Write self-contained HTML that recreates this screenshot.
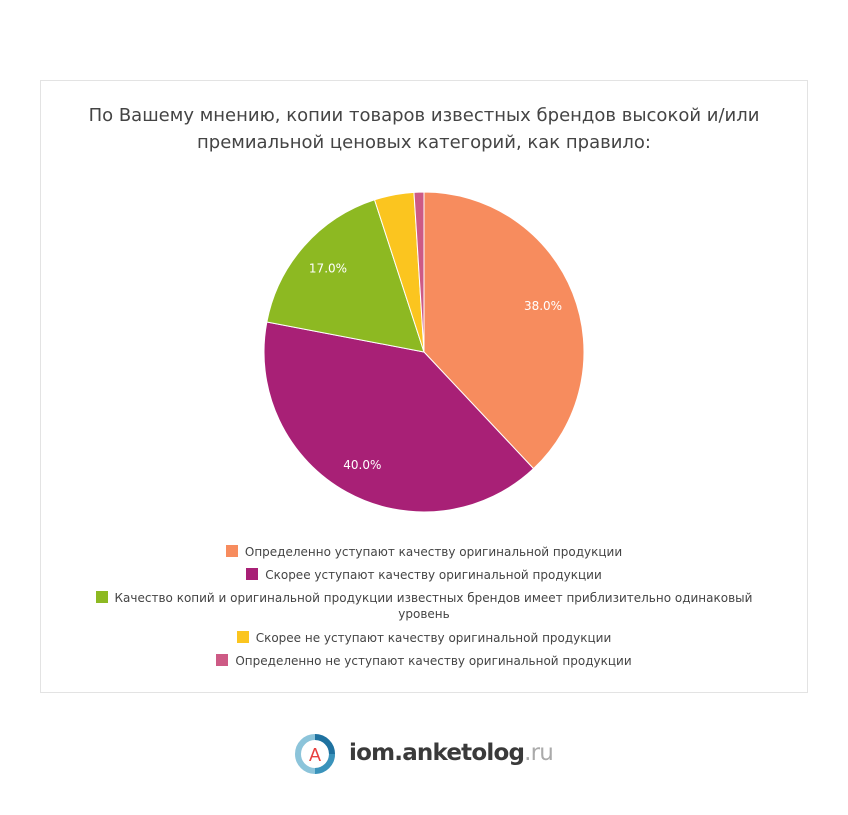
<!DOCTYPE html>
<html><head><meta charset="utf-8"><style>
body{margin:0;width:848px;height:815px;background:#fff;font-family:"DejaVu Sans","Liberation Sans",sans-serif;position:relative;overflow:hidden}
#card{position:absolute;left:40px;top:80px;width:768px;height:613px;border:1px solid #e3e3e3;box-sizing:border-box}
#title{position:absolute;left:40px;top:102px;width:768px;text-align:center;font-size:18px;line-height:27px;color:#444}
.leg{position:absolute;left:40px;width:768px;text-align:center;font-size:12px;color:#444;line-height:16px}
.sw{display:inline-block;width:12px;height:12px;margin-right:7px;vertical-align:-1px}
</style></head><body>
<div id="card"></div>
<div id="title">По Вашему мнению, копии товаров известных брендов высокой и/или<br>премиальной ценовых категорий, как правило:</div>
<svg id="pie" width="848" height="815" style="position:absolute;left:0;top:0"></svg>
<div class="leg" style="top:544px"><span class="sw" style="background:#f78c5e"></span>Определенно уступают качеству оригинальной продукции</div>
<div class="leg" style="top:567px"><span class="sw" style="background:#a82076"></span>Скорее уступают качеству оригинальной продукции</div>
<div class="leg" style="top:590px;left:90px;width:668px"><span class="sw" style="background:#8db922"></span>Качество копий и оригинальной продукции известных брендов имеет приблизительно одинаковый уровень</div>
<div class="leg" style="top:630px"><span class="sw" style="background:#fbc51f"></span>Скорее не уступают качеству оригинальной продукции</div>
<div class="leg" style="top:653px"><span class="sw" style="background:#cd5a85"></span>Определенно не уступают качеству оригинальной продукции</div>
<div style="position:absolute;left:293px;top:732px;height:44px;width:280px">
<svg width="44" height="44" style="position:absolute;left:0;top:0">
<circle cx="22" cy="22" r="17" fill="none" stroke="#8cc4da" stroke-width="6"/>
<path d="M22 5 A17 17 0 0 1 39 22" fill="none" stroke="#1f72a0" stroke-width="6"/>
<path d="M39 22 A17 17 0 0 1 22 39" fill="none" stroke="#3a93bb" stroke-width="6"/>
<circle cx="22" cy="22" r="13" fill="#fff"/>
<text x="22" y="29" text-anchor="middle" font-size="18" fill="#e8403f" font-family="Liberation Sans,sans-serif">A</text>
</svg>
<span style="position:absolute;left:56px;top:8px;font-size:23px;font-weight:bold;color:#3a3a3a;font-family:'DejaVu Sans',sans-serif;letter-spacing:-0.8px">iom.anketolog<span style="color:#aaa;font-weight:normal">.ru</span></span>
</div>
<script>
const labels=["Определенно уступают","Скорее уступают","Приблизительно одинаковый","Скорее не уступают","Определенно не уступают"];
const values=[38,40,17,4,1];
const colors=["#f78c5e","#a82076","#8db922","#fbc51f","#cd5a85"];
const svg=document.getElementById('pie');const ns="http://www.w3.org/2000/svg";
const cx=424,cy=352,r=160;const tot=values.reduce((a,b)=>a+b,0);
let a=0;
values.forEach((v,i)=>{
 const a0=a,a1=a+v/tot*2*Math.PI;a=a1;
 const p=t=>[cx+r*Math.sin(t),cy-r*Math.cos(t)];
 const [x0,y0]=p(a0),[x1,y1]=p(a1);
 const path=document.createElementNS(ns,'path');
 path.setAttribute('d',`M${cx},${cy}L${x0},${y0}A${r},${r} 0 ${a1-a0>Math.PI?1:0} 1 ${x1},${y1}Z`);
 path.setAttribute('fill',colors[i]);path.setAttribute('stroke','#fff');path.setAttribute('stroke-width','1');
 
 
 svg.appendChild(path);
 if(v/tot>=0.1){
  const m=(a0+a1)/2,lr=r*0.8;
  const t=document.createElementNS(ns,'text');
  t.setAttribute('x',cx+lr*Math.sin(m));t.setAttribute('y',cy-lr*Math.cos(m)+5);
  t.setAttribute('text-anchor','middle');t.setAttribute('font-size','12');t.setAttribute('fill','#fff');
  t.setAttribute('font-family','DejaVu Sans,sans-serif');
  t.textContent=(v/tot*100).toFixed(1)+'%';
  
  
  svg.appendChild(t);
 }
});
</script>
</body></html>
